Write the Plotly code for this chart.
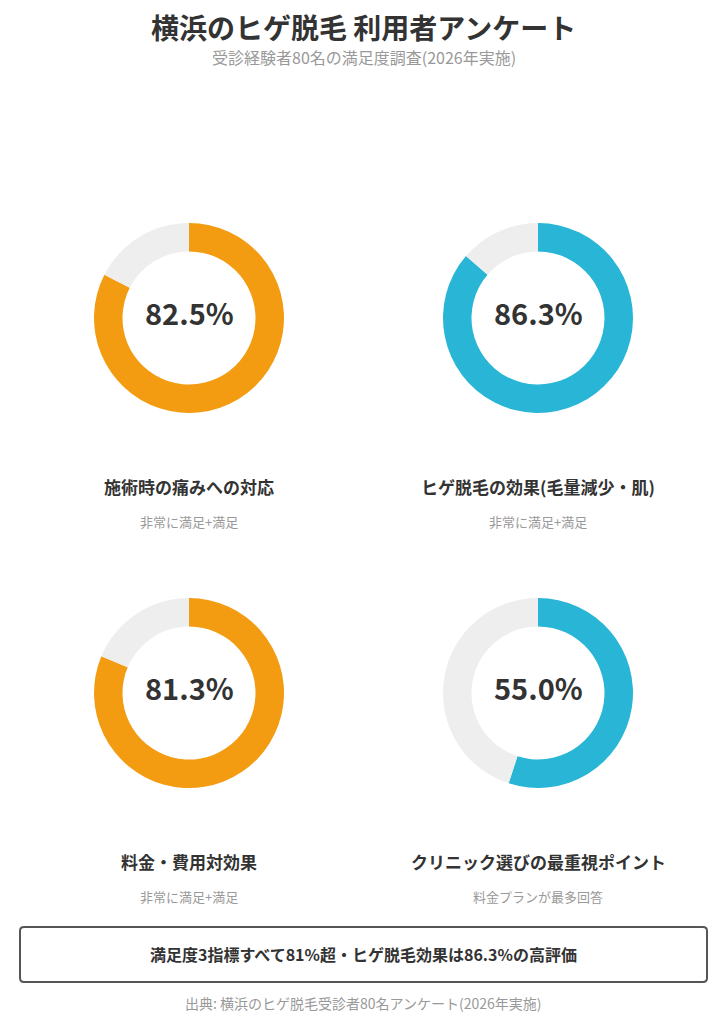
import plotly.graph_objects as go

# page body adds an 8px margin, so the figure is a bit smaller and coords shifted
OFF = 8
W, H = 727 - OFF, 1024 - OFF

# data
labels = ["施術時の痛みへの対応", "ヒゲ脱毛の効果(毛量減少・肌)", "料金・費用対効果", "クリニック選びの最重視ポイント"]
sub_labels = ["非常に満足+満足", "非常に満足+満足", "非常に満足+満足", "料金プランが最多回答"]
values = [82.5, 86.3, 81.3, 55.0]
colors = ["#F39C12", "#29B5D6", "#F39C12", "#29B5D6"]

FONT = "Noto Sans CJK JP"


def px(x):
    return (x - OFF) / W


def py(y):
    return 1 - (y - OFF) / H


# donut centres in page pixels (x, y from top)
centers = [(189, 318), (538, 318), (189, 693), (538, 693)]
R = 95

fig = go.Figure()
anns = []
for i, v in enumerate(values):
    cx, cy = centers[i]
    fig.add_trace(go.Pie(
        values=[v, 100 - v],
        marker=dict(colors=[colors[i], "#EEEEEE"], line=dict(width=0)),
        hole=0.70,
        sort=False,
        direction="clockwise",
        rotation=0,
        textinfo="none",
        hoverinfo="skip",
        showlegend=False,
        domain=dict(x=[px(cx - R), px(cx + R)], y=[py(cy + R), py(cy - R)]),
    ))
    anns.append(dict(x=px(cx), y=py(cy - 6), text=f"<b>{v:.1f}%</b>", showarrow=False,
                     font=dict(family=FONT, size=29, color="#333333"), xanchor="center", yanchor="middle"))
    anns.append(dict(x=px(cx), y=py(cy + 168), text=f"<b>{labels[i]}</b>", showarrow=False,
                     font=dict(family=FONT, size=17, color="#333333"), xanchor="center", yanchor="middle"))
    anns.append(dict(x=px(cx), y=py(cy + 203), text=sub_labels[i], showarrow=False,
                     font=dict(family=FONT, size=13, color="#999999"), xanchor="center", yanchor="middle"))

anns += [
    dict(x=px(363.5), y=py(27), text="<b>横浜のヒゲ脱毛 利用者アンケート</b>", showarrow=False,
         font=dict(family=FONT, size=28, color="#333333"), xanchor="center", yanchor="middle"),
    dict(x=px(363.5), y=py(57), text="受診経験者80名の満足度調査(2026年実施)", showarrow=False,
         font=dict(family=FONT, size=16, color="#999999"), xanchor="center", yanchor="middle"),
    dict(x=px(363.5), y=py(954), text="<b>満足度3指標すべて81%超・ヒゲ脱毛効果は86.3%の高評価</b>", showarrow=False,
         font=dict(family=FONT, size=16, color="#333333"), xanchor="center", yanchor="middle"),
    dict(x=px(363.5), y=py(1003), text="出典: 横浜のヒゲ脱毛受診者80名アンケート(2026年実施)", showarrow=False,
         font=dict(family=FONT, size=14, color="#999999"), xanchor="center", yanchor="middle"),
]

# rounded box
x0, x1, y0, y1, r = px(20), px(707), py(982), py(927), 4
rx, ry = r / W, r / H
path = (f"M {x0+rx},{y1} L {x1-rx},{y1} Q {x1},{y1} {x1},{y1-ry} L {x1},{y0+ry} "
        f"Q {x1},{y0} {x1-rx},{y0} L {x0+rx},{y0} Q {x0},{y0} {x0},{y0+ry} "
        f"L {x0},{y1-ry} Q {x0},{y1} {x0+rx},{y1} Z")

fig.update_layout(
    width=W, height=H,
    margin=dict(l=0, r=0, t=0, b=0),
    paper_bgcolor="white",
    plot_bgcolor="white",
    annotations=anns,
    shapes=[dict(type="path", path=path, xref="paper", yref="paper",
                 line=dict(color="#555555", width=2), fillcolor="rgba(0,0,0,0)")],
)

fig.write_html("out.html")
